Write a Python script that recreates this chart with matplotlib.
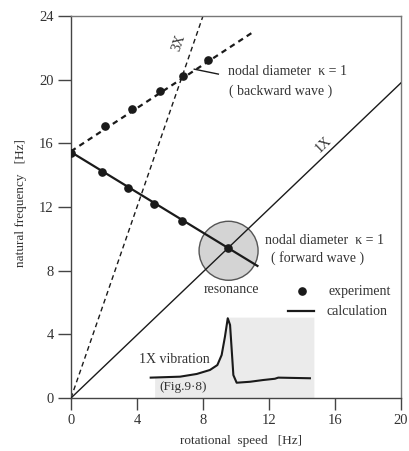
import matplotlib
matplotlib.use("Agg")
import matplotlib.pyplot as plt
from matplotlib.patches import Ellipse, Polygon
import numpy as np

# ---- data ----
fwd_exp_x = [0.0, 1.9, 3.45, 5.05, 6.75, 9.5]
fwd_exp_y = [15.4, 14.2, 13.2, 12.2, 11.15, 9.4]
fwd_calc_x = [0.0, 11.3]
fwd_calc_y = [15.45, 8.3]

bwd_exp_x = [2.05, 3.7, 5.4, 6.8, 8.3]
bwd_exp_y = [17.1, 18.15, 19.3, 20.2, 21.25]
bwd_calc_x = [0.0, 11.05]
bwd_calc_y = [15.5, 23.0]

x3_x = [0.0, 8.0]
x3_y = [0.0, 24.0]
x1_x = [0.0, 20.0]
x1_y = [0.0, 19.8]

resonance_x = 9.5
resonance_y = 9.35

vib_x = [4.83, 6.61, 7.62, 8.42, 8.87, 9.13, 9.33, 9.50, 9.64, 9.74, 9.84, 10.04,
         10.85, 11.65, 12.36, 12.56, 14.48]
vib_y = [1.28, 1.34, 1.51, 1.76, 2.07, 2.70, 3.85, 5.01, 4.59, 3.02, 1.44, 0.96,
         1.02, 1.13, 1.21, 1.28, 1.24]

xticks = [0, 4, 8, 12, 16, 20]
yticks = [0, 4, 8, 12, 16, 20, 24]

plt.rcParams['font.family'] = ['Liberation Serif', 'DejaVu Serif']
TXT = '#333333'
LN = '#1a1a1a'

fig = plt.figure(figsize=(4.09, 4.51), dpi=100)
ax = fig.add_axes([71/409, 53/451, 330/409, 382/451])
ax.set_xlim(0, 20)
ax.set_ylim(0, 24)

# gray inset background
poly_pts = [(5.1, 0.0), (5.1, 1.3)]
for xx, yy in zip(vib_x, vib_y):
    if 5.1 < xx <= 9.5:
        poly_pts.append((xx, yy))
poly_pts += [(9.6, 5.05), (14.75, 5.05), (14.75, 0.0)]
ax.add_patch(Polygon(poly_pts, closed=True, facecolor='#ebebeb', edgecolor='none', zorder=1))

# reference lines
ax.plot(x3_x, x3_y, color=LN, lw=1.0, ls=(0, (3.5, 2.5)), zorder=2)

# resonance circle
ax.add_patch(Ellipse((resonance_x + 0.05, resonance_y - 0.1), 2 * 29.5 / 16.5, 2 * 29.5 / 15.92,
                     facecolor='#d4d4d4', edgecolor='#555555', lw=1.0, zorder=2.5))
ax.plot(x1_x, x1_y, color=LN, lw=1.0, zorder=3)

# calculation lines
ax.plot(fwd_calc_x, fwd_calc_y, color=LN, lw=1.6, zorder=4)
ax.plot(bwd_calc_x, bwd_calc_y, color=LN, lw=1.6, ls=(0, (2.5, 2.0)), zorder=4)

# experiment points
ax.plot(fwd_exp_x, fwd_exp_y, 'o', color=LN, ms=5.2, zorder=5)
ax.plot(bwd_exp_x, bwd_exp_y, 'o', color=LN, ms=5.2, zorder=5)

# 1X vibration curve
ax.plot(vib_x, vib_y, color=LN, lw=1.5, zorder=4)

# leader line
ax.plot([7.47, 8.93], [20.66, 20.35], color=LN, lw=1.0, zorder=4)

# texts
fs = 10
ax.text(6.55, 22.3, '3X', rotation=71, fontsize=fs, color=TXT, ha='center', va='center')
ax.text(15.3, 15.9, '1X', rotation=44, fontsize=fs, color=TXT, ha='center', va='center')
ax.text(9.5, 20.5, 'nodal diameter  κ = 1', fontsize=fs, color=TXT, ha='left', va='center')
ax.text(9.6, 19.3, '( backward wave )', fontsize=fs, color=TXT, ha='left', va='center')
ax.text(11.75, 9.92, 'nodal diameter  κ = 1', fontsize=fs, color=TXT, ha='left', va='center')
ax.text(12.15, 8.8, '( forward wave )', fontsize=fs, color=TXT, ha='left', va='center')
ax.text(9.75, 6.8, 'resonance', fontsize=fs, color=TXT, ha='center', va='center')
ax.plot([13.98], [6.7], 'o', color=LN, ms=5.2)
ax.text(15.6, 6.7, 'experiment', fontsize=fs, color=TXT, ha='left', va='center')
ax.plot([13.17, 14.75], [5.46, 5.46], color=LN, lw=1.6)
ax.text(15.5, 5.46, 'calculation', fontsize=fs, color=TXT, ha='left', va='center')
ax.text(4.1, 2.4, '1X vibration', fontsize=fs, color=TXT, ha='left', va='center')
ax.text(5.35, 0.68, '(Fig.9·8)', fontsize=9.5, color=TXT, ha='left', va='center')

# axes styling
ax.set_xticks(xticks)
ax.set_yticks(yticks)
ax.tick_params(axis='y', direction='out', length=9.4, width=1.0, colors='#444444',
               labelsize=10.5, labelcolor=TXT, pad=3)
ax.tick_params(axis='x', direction='out', length=8.4, width=1.0, colors='#444444',
               labelsize=10.5, labelcolor=TXT, pad=3)
for s in ['left', 'bottom']:
    ax.spines[s].set_color('#444444')
    ax.spines[s].set_linewidth(1.0)
for s in ['top', 'right']:
    ax.spines[s].set_color('#777777')
    ax.spines[s].set_linewidth(1.0)

fig.text(241.5/409, 1 - 441/451, 'rotational  speed   [Hz]', fontsize=9.5, color=TXT,
         ha='center', va='center')
fig.text(21/409, 1 - 203/451, 'natural frequency   [Hz]', fontsize=9.5, color=TXT,
         ha='center', va='center', rotation=90)

fig.savefig('out.png', dpi=100)
